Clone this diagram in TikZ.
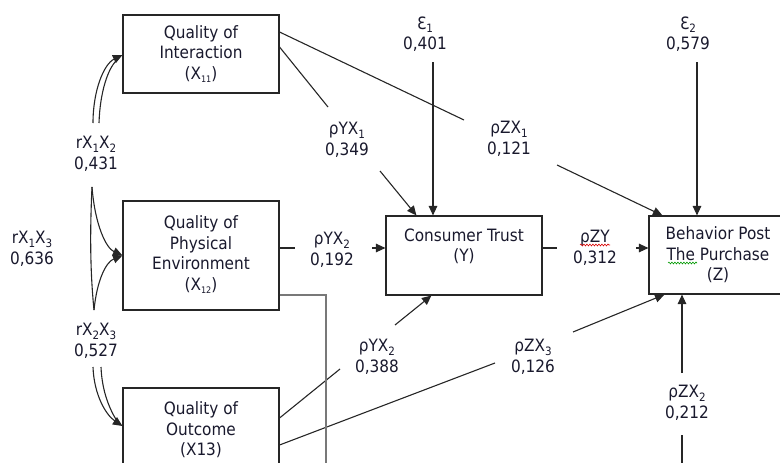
\documentclass[tikz,border=0pt]{standalone}
\usepackage{fontspec}
\setmainfont{DejaVu Sans Condensed}
\usetikzlibrary{arrows.meta,calc,decorations.pathmorphing}
\newcommand{\sbs}[1]{\raisebox{-0.22em}{\fontsize{11.5}{11.5}\selectfont #1}}
\newcommand{\sbsm}[1]{\raisebox{-0.2em}{\fontsize{9}{9}\selectfont #1}}
\definecolor{txt}{RGB}{25,25,45}
\definecolor{grayline}{RGB}{120,120,120}
\begin{document}
\begin{tikzpicture}[x=1pt,y=-1pt,
  font=\fontsize{17}{20.5}\selectfont,
  box/.style={draw=black!85,line width=1.1pt,align=center,inner sep=0pt,text=txt},
  lbl/.style={align=center,inner sep=1pt,text=txt},
  ln/.style={line width=1.1pt,draw=black!85},
  arr/.style={ln,-{Triangle[length=9.5pt,width=8.5pt]}}]
\useasboundingbox (0,0) rectangle (780,463);
\begin{scope}
\clip (0,0) rectangle (780,463);
% boxes
\node[box,minimum width=156pt,minimum height=78pt] (X11) at (201,54) {Quality of\\Interaction\\(X\sbsm{11})};
\node[box,minimum width=156pt,minimum height=109pt] (X12) at (201,255.5) {\raisebox{2pt}{\begin{tabular}{@{}c@{}}Quality of\\Physical\\Environment\\(X\sbsm{12})\end{tabular}}};
\node[box,minimum width=156pt,minimum height=84pt] (X13) at (201,430) {Quality of\\Outcome\\(X13)};
\node[box,minimum width=156pt,minimum height=79pt] (Y) at (464,255.5) {Consumer Trust\\(Y)\\\mbox{}};
\node[box,minimum width=138pt,minimum height=78pt] (Z) at (718,255) {Behavior Post\\The Purchase\\(Z)};
% labels
\node[lbl] (le1) at (425,34) {Ɛ\sbs{1}\\0,401};
\node[lbl] (le2) at (688,34) {Ɛ\sbs{2}\\0,579};
\node[lbl] (lyx1) at (347,140) {ρYX\sbs{1}\\0,349};
\node[lbl] (lzx1) at (509,139) {ρZX\sbs{1}\\0,121};
\node[lbl] (lyx2) at (332,250) {ρYX\sbs{2}\\0,192};
\node[lbl] (lzy) at (595,248) {ρZY\\0,312};
\node[lbl] (lyx3) at (377,357) {ρYX\sbs{2}\\0,388};
\node[lbl] (lzx3) at (533,357) {ρZX\sbs{3}\\0,126};
\node[lbl] (lzx2) at (687,403) {ρZX\sbs{2}\\0,212};
\node[lbl] (r12) at (96,154) {rX\sbs{1}X\sbs{2}\\0,431};
\node[lbl] (r13) at (32,249) {rX\sbs{1}X\sbs{3}\\0,636};
\node[lbl] (r23) at (96,341) {rX\sbs{2}X\sbs{3}\\0,527};
% spell-check marks
\draw[red!85!black,line width=0.6pt,decorate,decoration={snake,amplitude=0.9pt,segment length=3pt}] (580,245) -- (610,245);
\draw[green!60!black,line width=0.6pt,decorate,decoration={snake,amplitude=0.9pt,segment length=3pt}] (668,263) -- (697,263);
% coordinates
\coordinate (e1s) at (433,62);
\coordinate (e2s) at (697,62);
\coordinate (a1) at (328,107);
\coordinate (a2) at (380,171);
\coordinate (b1) at (464,120);
\coordinate (b2) at (557,165);
\coordinate (c1) at (295,248);
\coordinate (c2) at (372,248);
\coordinate (d1) at (557,248);
\coordinate (d2) at (636,248);
\coordinate (f1) at (340,369);
\coordinate (f2) at (395,325);
\coordinate (g1) at (495,363);
\coordinate (g2) at (573,332);
\coordinate (h1) at (326,295);
\coordinate (h2) at (326,470);
\coordinate (k1) at (682,373);
\coordinate (k2) at (682,435);
\coordinate (k3) at (682,470);
% connectors
\draw[arr] (e1s) -- (e1s |- Y.north);
\draw[arr] (e2s) -- (e2s |- Z.north);
\draw[ln] ([yshift=7pt]X11.east) -- (a1);
\draw[arr] (a2) -- ($(Y.north west)+(31,0)$);
\draw[ln] ([yshift=22pt]X11.east) -- (b1);
\draw[arr] (b2) -- ($(Z.north west)+(14,0)$);
\draw[ln] ([yshift=7.5pt]X12.east) -- (c1);
\draw[arr] (c2) -- ([yshift=7.5pt]Y.west);
\draw[ln] ([yshift=7.5pt]Y.east) -- (d1);
\draw[arr] (d2) -- ([yshift=7pt]Z.west);
\draw[ln] ([yshift=12pt]X13.east) -- (f1);
\draw[arr] (f2) -- ($(Y.south west)+(46,0)$);
\draw[ln] ([yshift=-15pt]X13.east) -- (g1);
\draw[arr] (g2) -- ($(Z.south west)+(16,0)$);
\draw[line width=1.4pt,draw=grayline] ([yshift=-39.5pt]X12.east) -- (h1) -- (h2);
\draw[arr] (k1) -- (k1 |- Z.south);
\draw[ln] (k2) -- (k3);
% correlation curves
\coordinate (p1) at (93,123);
\coordinate (p2) at (99,123);
\draw[arr] (p1) .. controls (93,90) and (104,64) .. ([yshift=-1pt]X11.west);
\draw[ln] (p2) .. controls (100,92) and (108,68) .. (117,60);
\coordinate (q1) at (92,187);
\coordinate (q2) at (94,310);
\draw[ln] (q1) .. controls (90,230) and (90,270) .. (q2);
\draw[arr] (q1) .. controls (95,225) and (106,248) .. (X12.west);
\draw[arr] (q2) .. controls (97,280) and (106,262) .. (X12.west);
\coordinate (s1) at (93,367);
\coordinate (s2) at (101,367);
\draw[arr] (s1) .. controls (94,395) and (106,415) .. ([yshift=4pt]X13.west);
\draw[ln] (s2) .. controls (102,392) and (110,410) .. (117,421);
\end{scope}
\end{tikzpicture}
\end{document}
